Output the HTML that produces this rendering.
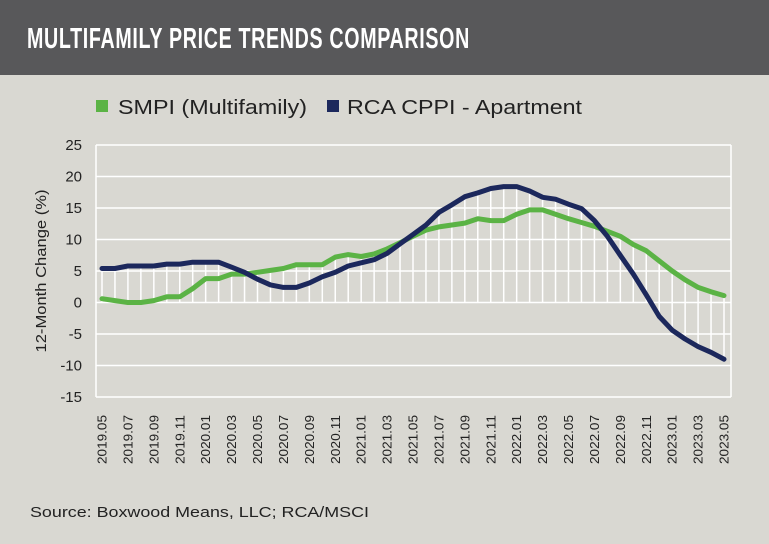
<!DOCTYPE html>
<html><head><meta charset="utf-8"><style>
html,body{margin:0;padding:0;background:#d9d8d2;}
svg{display:block;font-family:"Liberation Sans",sans-serif;}
</style></head><body>
<svg id="s" width="769" height="544" xmlns="http://www.w3.org/2000/svg">
<rect width="769" height="544" fill="#d9d8d2"/>
<rect width="769" height="75" fill="#58585a"/>
<text x="27" y="48" fill="#fff" font-size="29" font-weight="bold" letter-spacing="1" textLength="443" lengthAdjust="spacingAndGlyphs">MULTIFAMILY PRICE TRENDS COMPARISON</text>
<rect x="96" y="100" width="12" height="12" fill="#5bb345"/>
<text x="118" y="114" font-size="20" fill="#222" textLength="189" lengthAdjust="spacingAndGlyphs">SMPI (Multifamily)</text>
<rect x="327" y="100" width="12" height="12" fill="#1c285c"/>
<text x="347" y="114" font-size="20" fill="#222" textLength="235" lengthAdjust="spacingAndGlyphs">RCA CPPI - Apartment</text>
<g id="grid"></g>
<g id="ylab" font-size="15" fill="#222" text-anchor="end"></g>
<text transform="translate(46,271) rotate(-90)" font-size="15" fill="#222" text-anchor="middle" textLength="163" lengthAdjust="spacingAndGlyphs">12-Month Change (%)</text>
<g id="xlab" font-size="13" fill="#222"></g>
<g id="drops"></g>
<g id="lines"></g>
<text x="30" y="517" font-size="15" fill="#222" textLength="339" lengthAdjust="spacingAndGlyphs">Source: Boxwood Means,  LLC; RCA/MSCI</text>
</svg>
<script>
var NS="http://www.w3.org/2000/svg";
function el(p,t,a,txt){var e=document.createElementNS(NS,t);for(var k in a)e.setAttribute(k,a[k]);if(txt!==undefined)e.textContent=txt;document.getElementById(p).appendChild(e);return e;}
var L=96,R=731,T=145,B=397;
function Y(v){return T+(25-v)*(B-T)/40;}
var x0=102,dx=(724-102)/48;
function X(i){return x0+i*dx;}
for(var v=25;v>=-15;v-=5){el("grid","line",{x1:L,x2:R,y1:Y(v),y2:Y(v),stroke:"#fff","stroke-width":1.5});el("ylab","text",{x:82,y:Y(v)+5},String(v));}
el("grid","line",{x1:L,x2:L,y1:T,y2:B,stroke:"#fff","stroke-width":1.5});
el("grid","line",{x1:R,x2:R,y1:T,y2:B,stroke:"#fff","stroke-width":1.5});
var g=[0.6,0.3,0,0,0.3,0.9,0.9,2.2,3.8,3.8,4.5,4.5,4.8,5.1,5.4,6,6,6,7.2,7.6,7.3,7.7,8.5,9.5,10.5,11.5,12,12.3,12.6,13.3,13,13,14,14.7,14.7,14,13.3,12.7,12.1,11.3,10.5,9.2,8.2,6.6,5,3.6,2.4,1.7,1.1];
var n=[5.4,5.4,5.8,5.8,5.8,6.1,6.1,6.4,6.4,6.4,5.6,4.8,3.7,2.8,2.4,2.4,3.1,4.1,4.8,5.8,6.3,6.8,7.8,9.3,10.8,12.3,14.3,15.5,16.8,17.4,18.1,18.4,18.4,17.7,16.7,16.4,15.6,14.9,13,10.5,7.5,4.5,1.2,-2.2,-4.4,-5.8,-7,-7.9,-9];
for(var i=0;i<49;i++){
 var hi=Math.max(0,g[i],n[i]),lo=Math.min(0,g[i],n[i]);
 el("drops","line",{x1:X(i),x2:X(i),y1:Y(hi),y2:Y(lo),stroke:"#fff","stroke-width":1.5});
 if(i%2==0){var yr=2019+Math.floor((4+i)/12),m=(4+i)%12+1;
  var lab=yr+"."+(m<10?"0"+m:m);
  el("xlab","text",{transform:"translate("+(X(i)+4.5)+",464) rotate(-90)",textLength:49,lengthAdjust:"spacingAndGlyphs"},lab);}
}
function pts(a){return a.map(function(v,i){return X(i).toFixed(1)+","+Y(v).toFixed(1);}).join(" ");}
el("lines","polyline",{points:pts(g),fill:"none",stroke:"#5bb345","stroke-width":5,"stroke-linejoin":"round","stroke-linecap":"round"});
el("lines","polyline",{points:pts(n),fill:"none",stroke:"#1c285c","stroke-width":5,"stroke-linejoin":"round","stroke-linecap":"round"});
</script>
</body></html>
